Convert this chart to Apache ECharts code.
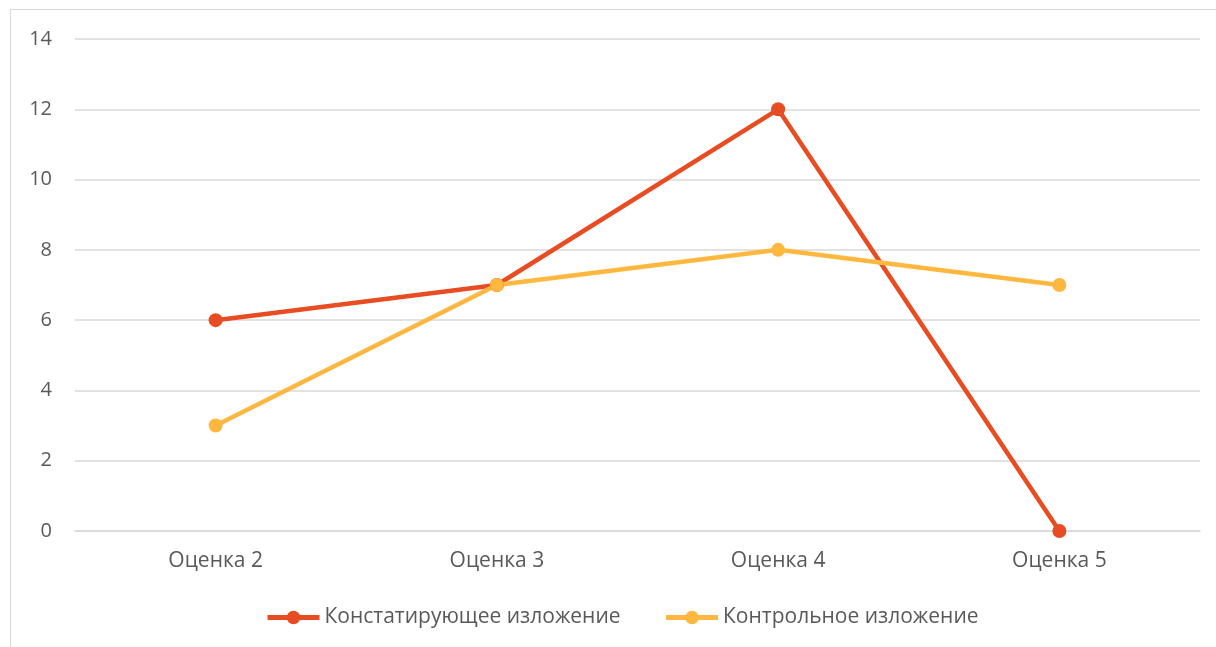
<!DOCTYPE html>
<html><head><meta charset="utf-8">
<script src="https://cdn.jsdelivr.net/npm/echarts@6/dist/echarts.min.js"></script>
<style>
html,body{margin:0;padding:0;background:#fff;}
#frame{position:absolute;left:10px;top:9px;width:1300px;height:800px;border:1px solid #d9d9d9;box-sizing:border-box;}
#c{position:absolute;left:0;top:0;width:1216px;height:647px;}
</style></head>
<body><div id="frame"></div><div id="c"></div>
<script>
const categories = ['Оценка 2','Оценка 3','Оценка 4','Оценка 5'];
const seriesNames = ['Констатирующее изложение','Контрольное изложение'];
const constat = [6,7,12,0];
const control = [3,7,8,7];
const colors = ['#E84C22','#FFB83F'];
const chart = echarts.init(document.getElementById('c'));
const font = '"Open Sans", "Noto Sans", sans-serif';
chart.setOption({
  animation:false,
  textStyle:{fontFamily:font},
  legend:{
    bottom:14, left:260, itemWidth:52, itemHeight:17, itemGap:43,
    lineStyle:{width:5},
    textStyle:{fontSize:21,color:'#595959',fontFamily:font},
    data:seriesNames
  },
  grid:{left:75,right:16,top:39,bottom:116},
  xAxis:{type:'category',data:categories,boundaryGap:true,
    axisLine:{lineStyle:{color:'#d9d9d9',width:1.5}},axisTick:{show:false},
    axisLabel:{fontSize:21,color:'#595959',margin:20,fontFamily:font}},
  yAxis:{type:'value',min:0,max:14,interval:2,
    axisLine:{show:false},axisTick:{show:false},
    splitLine:{lineStyle:{color:'#d9d9d9',width:1.5}},
    axisLabel:{fontSize:20,color:'#595959',margin:23,fontFamily:font}},
  series:[
    {name:seriesNames[0],type:'line',data:constat,color:colors[0],symbol:'circle',symbolSize:14,
     lineStyle:{width:4.5,color:colors[0]},itemStyle:{color:colors[0]}},
    {name:seriesNames[1],type:'line',data:control,color:colors[1],symbol:'circle',symbolSize:14,
     lineStyle:{width:4.5,color:colors[1]},itemStyle:{color:colors[1]}}
  ]
});
</script></body></html>
